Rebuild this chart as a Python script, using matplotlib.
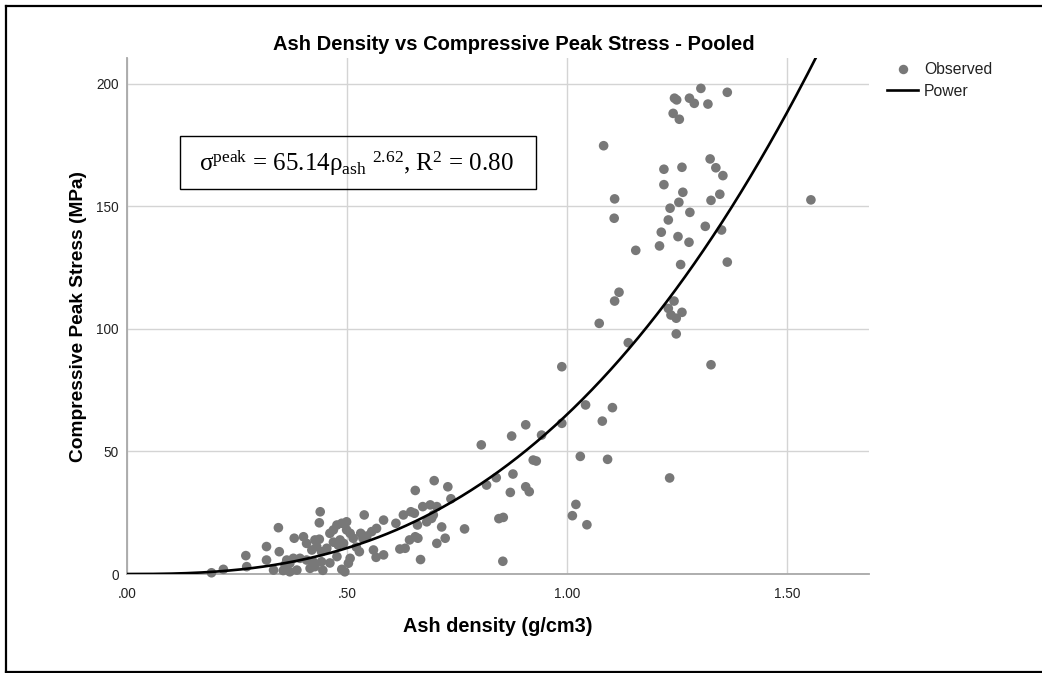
import matplotlib.pyplot as plt
import numpy as np
from matplotlib.patches import Rectangle
from matplotlib.lines import Line2D

plt.rcParams['font.family'] = ['Liberation Sans', 'DejaVu Sans']
plt.rcParams['mathtext.fontset'] = 'custom'
plt.rcParams['mathtext.rm'] = 'Liberation Serif'
plt.rcParams['mathtext.it'] = 'Liberation Serif:italic'

# observed ash density (g/cm3) and compressive peak stress (MPa)
density = [
    0.192, 0.219, 0.270, 0.272, 0.317, 0.317, 0.333, 0.344, 0.346, 0.355,
    0.359, 0.363, 0.370, 0.370, 0.378, 0.380, 0.386, 0.393, 0.401, 0.408,
    0.408, 0.416, 0.420, 0.423, 0.427, 0.427, 0.431, 0.437, 0.437, 0.439,
    0.442, 0.442, 0.445, 0.454, 0.461, 0.461, 0.469, 0.469, 0.477, 0.477,
    0.480, 0.484, 0.488, 0.488, 0.492, 0.495, 0.499, 0.499, 0.503, 0.507,
    0.507, 0.514, 0.521, 0.528, 0.531, 0.536, 0.539, 0.545, 0.556, 0.560,
    0.566, 0.567, 0.583, 0.583, 0.611, 0.620, 0.628, 0.632, 0.642, 0.645,
    0.653, 0.655, 0.655, 0.660, 0.661, 0.667, 0.672, 0.681, 0.689, 0.692,
    0.696, 0.698, 0.704, 0.704, 0.715, 0.723, 0.729, 0.736, 0.767,
    0.805, 0.817, 0.839, 0.845, 0.855, 0.854, 0.871, 0.874, 0.877, 0.906,
    0.906, 0.914, 0.923, 0.930, 0.942, 0.988, 0.988, 1.012, 1.020, 1.030,
    1.042, 1.045, 1.073, 1.080, 1.083, 1.092, 1.103, 1.107, 1.108, 1.108,
    1.118, 1.139, 1.156,
    1.210, 1.214, 1.220, 1.220, 1.230, 1.230, 1.233, 1.234, 1.236, 1.241,
    1.243, 1.244, 1.248, 1.248, 1.249, 1.252, 1.254, 1.255, 1.258, 1.261,
    1.261, 1.263, 1.277, 1.278, 1.279, 1.289, 1.304, 1.314, 1.320, 1.325,
    1.327, 1.327, 1.338, 1.347, 1.351, 1.354, 1.364, 1.364, 1.554,
]
stress = [
    0.5, 1.9, 7.5, 3.0, 11.2, 5.7, 1.6, 18.9, 9.1, 1.4,
    3.7, 5.7, 0.9, 4.4, 6.4, 14.6, 1.6, 6.4, 15.2, 12.5,
    5.7, 2.3, 9.8, 5.0, 13.9, 3.0, 11.2, 14.2, 20.9, 25.4,
    9.1, 5.0, 1.5, 10.5, 16.6, 4.5, 18.0, 13.0, 20.0, 7.1,
    11.8, 13.9, 20.7, 1.9, 12.5, 0.9, 21.3, 18.0, 4.4, 16.6,
    6.4, 14.6, 11.0, 9.1, 16.6, 14.6, 24.1, 15.5, 17.3, 9.8,
    6.8, 18.6, 22.0, 7.8, 20.7, 10.2, 24.1, 10.5, 13.9, 25.4,
    24.8, 34.1, 15.2, 20.0, 14.6, 5.9, 27.5, 21.3, 28.2, 22.7,
    24.1, 38.1, 27.5, 12.5, 19.2, 14.6, 35.6, 30.7, 18.4,
    52.7, 36.3, 39.3, 22.6, 23.1, 5.2, 33.3, 56.3, 40.8, 60.9,
    35.6, 33.6, 46.5, 46.1, 56.7, 84.6, 61.5, 23.8, 28.4, 48.0,
    69.0, 20.1, 102.3, 62.4, 174.8, 46.8, 67.9, 145.2, 153.1, 111.4,
    115.0, 94.4, 132.1,
    133.9, 139.5, 165.2, 158.9, 144.5, 108.4, 39.2, 149.3, 105.7, 188.0,
    111.4, 194.2, 104.4, 98.0, 193.5, 137.7, 151.7, 185.6, 126.3, 166.0,
    106.8, 155.8, 135.4, 194.2, 147.6, 192.1, 198.2, 141.9, 191.8, 169.4,
    152.5, 85.4, 165.8, 155.0, 140.4, 162.6, 196.6, 127.3, 152.7,
]

# power fit: sigma = a * rho^b
fit_a = 65.14
fit_b = 2.62

xticks = [0.0, 0.5, 1.0, 1.5]
xticklabels = ['.00', '.50', '1.00', '1.50']
yticks = [0, 50, 100, 150, 200]
yticklabels = ['0', '50', '100', '150', '200']

W, H = 1042, 673
fig = plt.figure(figsize=(W / 100, H / 100), dpi=100)
ax = fig.add_axes([127 / W, 1 - 574 / H, (869 - 127) / W, (574 - 58) / H])

ax.set_xlim(0, 1.686)
ax.set_ylim(0, 210.6)

ax.scatter(density, stress, s=48, color='#787878', edgecolors='none',
           zorder=3, clip_on=False, label='Observed')

xfit = np.linspace(0, 1.686, 400)
ax.plot(xfit, fit_a * xfit ** fit_b, color='black', lw=1.9, zorder=4,
        label='Power')

ax.set_xticks(xticks)
ax.set_xticklabels(xticklabels)
ax.set_yticks(yticks)
ax.set_yticklabels(yticklabels)
ax.tick_params(length=0, labelsize=9.8, labelcolor='#222222')
ax.tick_params(axis='x', pad=9)
ax.tick_params(axis='y', pad=6)
ax.grid(True, color='#d4d4d4', lw=1.0)
ax.set_axisbelow(True)
for side in ['top', 'right']:
    ax.spines[side].set_visible(False)
for side in ['left', 'bottom']:
    ax.spines[side].set_color('#a8a8a8')
    ax.spines[side].set_linewidth(1.3)

fig.text(514 / W, 1 - 44 / H, 'Ash Density vs Compressive Peak Stress - Pooled',
         ha='center', va='center', fontsize=14.5, fontweight='bold')
fig.text(498 / W, 1 - 627 / H, 'Ash density (g/cm3)',
         ha='center', va='center', fontsize=14.3, fontweight='bold')
fig.text(79 / W, 1 - 316 / H, 'Compressive Peak Stress (MPa)',
         ha='center', va='center', fontsize=13.8, fontweight='bold', rotation=90)

# fitted equation box
fig.patches.append(Rectangle((180 / W, 1 - 189 / H), (536 - 180) / W, (189 - 136) / H,
                             transform=fig.transFigure, fill=False,
                             edgecolor='black', lw=1.0))
fig.text(356 / W, 1 - 163 / H,
         r'σ$^{\mathrm{peak}}$ = 65.14ρ$_{\mathrm{ash}}$ ${}^{\mathrm{2.62}}$, R$^{\mathrm{2}}$ = 0.80',
         ha='center', va='center', fontsize=18, family='Liberation Serif')

handles = [Line2D([], [], ls='none', marker='o', ms=6.8, color='#787878', mec='none'),
           Line2D([], [], color='black', lw=1.9)]
fig.legend(handles, ['Observed', 'Power'], loc='upper left',
           bbox_to_anchor=(887 / W, 1 - 62 / H), frameon=False, fontsize=11.3,
           handlelength=2.0, handletextpad=0.35, labelspacing=0.42,
           borderpad=0, borderaxespad=0, labelcolor='#222222')

# outer frame
fig.add_artist(Line2D([6 / W, 6 / W], [1 - 6 / H, 1 - 672 / H],
                      transform=fig.transFigure, color='black', lw=1.6))
fig.add_artist(Line2D([6 / W, 1.0], [1 - 6 / H, 1 - 6 / H],
                      transform=fig.transFigure, color='black', lw=1.6))
fig.add_artist(Line2D([6 / W, 1.0], [1 - 672 / H, 1 - 672 / H],
                      transform=fig.transFigure, color='black', lw=1.6))

fig.savefig('out.png', dpi=100)
